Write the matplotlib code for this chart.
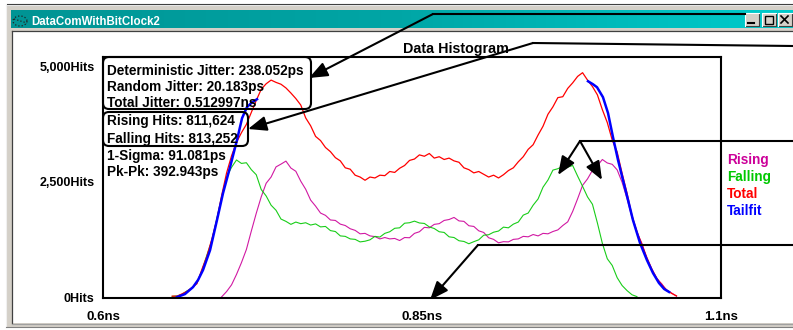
import numpy as np
import matplotlib
matplotlib.use("Agg")
import matplotlib.pyplot as plt
from matplotlib.patches import FancyBboxPatch, Rectangle

plt.rcParams['font.family'] = ['Liberation Sans', 'DejaVu Sans']
plt.rcParams['font.weight'] = 'bold'

# histogram bins (ns), 4 ps wide
bins_ns = np.round(np.arange(104) * 0.004 + 0.656, 3)

falling_hits = [15, 25, 60, 135, 190, 310, 570, 905, 1220, 1690,
                2160, 2600, 2810, 2970, 2895, 2910, 2760, 2650, 2330, 2190,
                1990, 1880, 1690, 1640, 1575, 1625, 1590, 1610, 1560, 1585,
                1520, 1530, 1440, 1420, 1325, 1315, 1260, 1250, 1195, 1210,
                1240, 1315, 1300, 1380, 1415, 1490, 1500, 1600, 1610, 1645,
                1605, 1595, 1520, 1485, 1415, 1400, 1305, 1290, 1220, 1205,
                1155, 1200, 1240, 1340, 1350, 1405, 1430, 1515, 1500, 1580,
                1625, 1775, 1820, 1990, 2125, 2380, 2535, 2750, 2780, 2830,
                2815, 2850, 2620, 2400, 2170, 2010, 1605, 1165, 830, 685,
                420, 250, 140, 50, 10, None, None, None, None, None,
                None, None, None, None]

rising_hits = [None, None, None, None, None, None, None, None, None, None,
               5, 120, 265, 490, 745, 1030, 1430, 1815, 2170, 2465,
               2600, 2820, 2880, 2945, 2795, 2725, 2510, 2335, 2100, 1970,
               1820, 1770, 1670, 1660, 1580, 1550, 1480, 1445, 1370, 1380,
               1325, 1310, 1260, 1290, 1260, 1270, 1225, 1290, 1285, 1380,
               1415, 1510, 1500, 1575, 1590, 1660, 1680, 1725, 1650, 1640,
               1545, 1530, 1435, 1400, 1285, 1250, 1175, 1200, 1195, 1250,
               1260, 1315, 1305, 1355, 1325, 1380, 1370, 1420, 1455, 1550,
               1630, 1855, 2130, 2420, 2560, 2745, 2845, 2980, 2905, 2875,
               2755, 2485, 2130, 1725, 1390, 1165, 830, 600, 395, 290,
               140, 90, 20, None]

total_hits = [20, 20, 70, 125, 205, 290, 600, 880, 1250, 1660,
              2200, 2690, 3060, 3350, 3560, 3740, 4000, 4260, 4500, 4620,
              4700, 4650, 4610, 4530, 4420, 4300, 4160, 3880, 3710, 3480,
              3390, 3240, 3150, 3020, 2950, 2800, 2770, 2640, 2600, 2530,
              2600, 2580, 2640, 2630, 2720, 2700, 2790, 2850, 2960, 2990,
              3080, 3050, 3110, 3010, 3040, 2980, 3010, 2950, 2920, 2800,
              2760, 2690, 2720, 2660, 2600, 2640, 2580, 2650, 2740, 2800,
              2930, 3040, 3200, 3300, 3510, 3700, 3960, 4120, 4320, 4340,
              4520, 4640, 4780, 4860, 4700, 4560, 4380, 4060, 3780, 3400,
              3140, 2680, 2250, 1760, 1420, 1140, 858, 610, 410, 270,
              155, 80, 25, None]

# gaussian tail fits on both edges
tail_left_ns = [0.6599, 0.6663, 0.6728, 0.6769, 0.6809, 0.6866, 0.6922,
                0.6971, 0.7028, 0.7084, 0.7125, 0.7165, 0.7206, 0.7246]
tail_left_hits = [0, 65, 215, 370, 585, 1015, 1665, 2250, 2815, 3400,
                  3875, 4115, 4220, 4285]
tail_right_ns = [0.9924, 0.9964, 0.9997, 1.0045, 1.0086, 1.0126, 1.0167,
                 1.0207, 1.0248, 1.0288, 1.0345, 1.0401, 1.0450, 1.0498,
                 1.0540, 1.0580]
tail_right_hits = [4675, 4610, 4545, 4330, 3985, 3465, 2965, 2535, 2100,
                   1665, 1170, 800, 520, 305, 175, 110]

stats_jitter = ["Deterministic Jitter: 238.052ps", "Random Jitter: 20.183ps",
                "Total Jitter: 0.512997ns"]
stats_hits = ["Rising Hits: 811,624", "Falling Hits: 813,252"]
stats_other = ["1-Sigma: 91.081ps", "Pk-Pk: 392.943ps"]

x_ticks = [0.6, 0.85, 1.1]
x_labels = ["0.6ns", "0.85ns", "1.1ns"]
y_ticks = [0, 2500, 5000]
y_labels = ["0Hits", "2,500Hits", "5,000Hits"]

series_names = ["Rising", "Falling", "Total", "Tailfit"]
series_colors = ["#cc0099", "#00c800", "#ff0000", "#0000ff"]

W, H = 793, 330
fig = plt.figure(figsize=(W / 100, H / 100), dpi=100, facecolor="white")

# ---- histogram axes ----
L, R, T, B = 103, 721, 57, 298
ax = fig.add_axes([L / W, 1 - B / H, (R - L) / W, (B - T) / H])
ax.set_facecolor("none")
ax.set_xlim(0.6, 1.1)
ax.set_ylim(-20, 5200)

def arr(v):
    return np.array([np.nan if a is None else a for a in v], dtype=float)

ax.plot(bins_ns, arr(rising_hits), color=series_colors[0], lw=0.8, alpha=0.9)
ax.plot(bins_ns, arr(falling_hits), color=series_colors[1], lw=0.8, alpha=0.9)
ax.plot(bins_ns, arr(total_hits), color=series_colors[2], lw=0.9)
ax.plot(tail_left_ns, tail_left_hits, color=series_colors[3], lw=1.8)
ax.plot(tail_right_ns, tail_right_hits, color=series_colors[3], lw=1.8)

for s in ax.spines.values():
    s.set_linewidth(1.5)
    s.set_color("black")
ax.set_xticks(x_ticks)
ax.set_xticklabels(x_labels, fontsize=9.5, fontweight="bold")
ax.set_yticks(y_ticks)
ax.set_yticklabels(y_labels, fontsize=9, fontweight="bold")
ax.tick_params(axis="x", length=0, pad=9)
ax.tick_params(axis="y", length=0, pad=6)
# the middle label sits a little right of its tick
import matplotlib.transforms as mtrans
lab = ax.get_xticklabels()[1]
lab.set_transform(lab.get_transform() + mtrans.ScaledTranslation(10 / 100, 0, fig.dpi_scale_trans))

# ---- window frame, annotations (pixel coords) ----
ov = fig.add_axes([0, 0, 1, 1], zorder=5)
ov.set_xlim(0, W)
ov.set_ylim(H, 0)
ov.axis("off")
ov.patch.set_alpha(0)

gray = "#d4d0c8"
ov.add_patch(Rectangle((6, 5), W, 6, color=gray, lw=0))
ov.add_patch(Rectangle((6, 5), 6, 322, color=gray, lw=0))
ov.add_patch(Rectangle((6, 28), W, 3, color=gray, lw=0))
ov.add_patch(Rectangle((6, 323), W, 4, color=gray, lw=0))
ov.plot([6, W], [5, 5], color="#f0f0f0", lw=0.8)
ov.plot([6, 6], [5, 327], color="#f0f0f0", lw=0.8)
ov.plot([7, W], [4.3, 4.3], color="#404040", lw=0.8)
ov.plot([11.5, 11.5], [31, 323], color="#404040", lw=0.9)
ov.plot([11.5, W], [31, 31], color="#404040", lw=0.9)
ov.plot([11.5, W], [323.5, 323.5], color="#a0a0a0", lw=0.9)
ov.plot([6, W], [327, 327], color="#808080", lw=0.8)

# title bar gradient
grad = np.linspace(0, 1, 256)[None, :]
cmap = matplotlib.colors.LinearSegmentedColormap.from_list(
    "bar", ["#009494", "#00a6a6", "#00cccc"])
ov.imshow(grad, extent=(11, W, 28.5, 10.5), cmap=cmap, aspect="auto", zorder=1)
ov.text(31, 25, "DataComWithBitClock2", color="white", fontsize=8.3,
        fontweight="bold", va="baseline", zorder=3)
# small window icon
t = np.linspace(0, 2 * np.pi, 30)
ov.plot(20 + 7 * np.cos(t), 21 + 5 * np.sin(t), color="#202020", lw=0.9, ls=":", zorder=3)
ov.plot([14, 27], [19, 23], color="#202020", lw=0.9, ls=":", zorder=3)

# caption buttons
for bx in (745, 762, 778):
    ov.add_patch(Rectangle((bx, 13), 14, 13, facecolor=gray, edgecolor="none", zorder=4))
    ov.plot([bx, bx + 14, bx + 14], [26, 26, 13], color="#404040", lw=0.8, zorder=4)
    ov.plot([bx, bx, bx + 14], [26, 13, 13], color="white", lw=0.8, zorder=4)
ov.plot([748, 754], [23, 23], color="black", lw=1.5, zorder=5)
ov.add_patch(Rectangle((765, 15.5), 8, 8, facecolor="none", edgecolor="black", lw=1, zorder=5))
ov.plot([781, 788], [16, 23], color="black", lw=1.2, zorder=5)
ov.plot([781, 788], [23, 16], color="black", lw=1.2, zorder=5)

ov.text(456, 53, "Data Histogram", fontsize=10.3, fontweight="bold",
        ha="center", va="baseline", zorder=6)

# stats boxes
for (x0, y0, x1, y1) in [(103, 57, 311, 109), (103, 112, 248, 146)]:
    ov.add_patch(FancyBboxPatch((x0, y0), x1 - x0, y1 - y0,
                                boxstyle="round,pad=0,rounding_size=6",
                                facecolor="none", edgecolor="black", lw=1.5, zorder=6))
for txt, yb in zip(stats_jitter + stats_hits + stats_other,
                   [75, 91, 107, 125, 143, 160, 176]):
    ov.text(107, yb, txt, fontsize=9.8, fontweight="bold", va="baseline", zorder=6)

for name, col, yb in zip(series_names, series_colors, [164, 181, 198, 215]):
    ov.text(727, yb, name, color=col, fontsize=9.8, fontweight="bold",
            va="baseline", zorder=6)

# callout lines and arrows
def arrow(tip, tail):
    ov.annotate("", xy=tip, xytext=tail, zorder=7,
                arrowprops=dict(arrowstyle="-|>,head_length=0.8,head_width=0.32",
                                color="black", lw=1.5, mutation_scale=14,
                                shrinkA=0, shrinkB=0))

ov.plot([433, 745], [14, 14], color="black", lw=1.5, zorder=7)
arrow((309, 78), (433, 14))
ov.plot([533, W], [43, 46], color="black", lw=1.5, zorder=7)
arrow((248, 129), (533, 43))
ov.plot([580, W], [141, 141], color="black", lw=1.5, zorder=7)
arrow((558, 175), (580, 141))
arrow((602, 180), (580, 141))
ov.plot([478, W], [245, 245], color="black", lw=1.5, zorder=7)
arrow((430, 300), (478, 245))

fig.savefig("out.png", dpi=100, facecolor="white")
